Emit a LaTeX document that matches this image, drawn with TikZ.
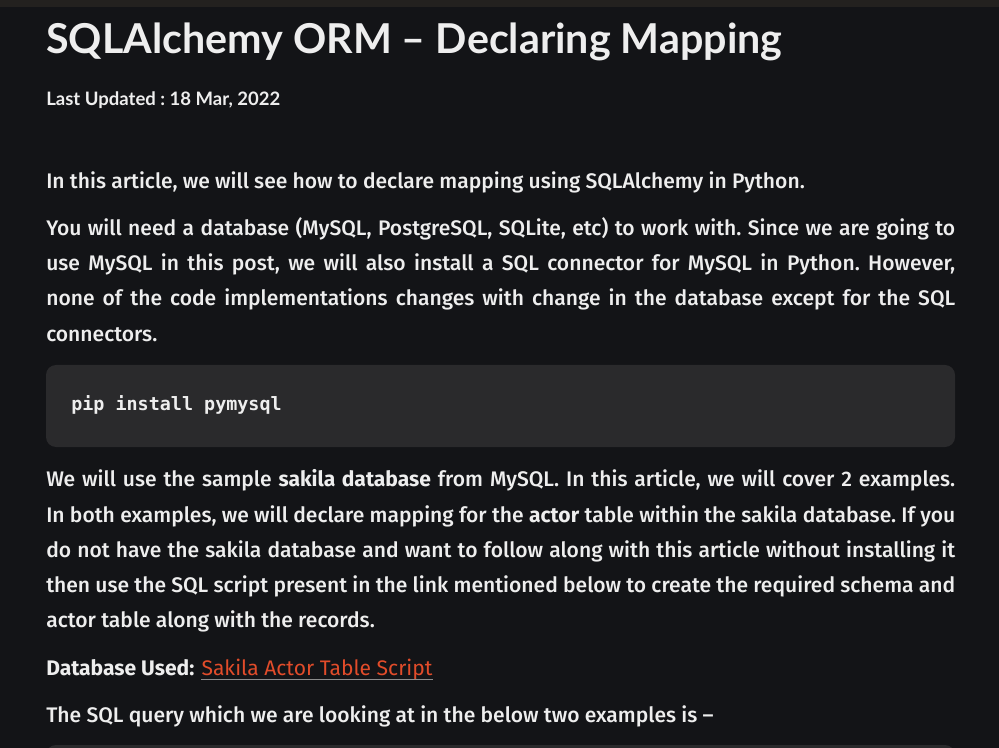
\documentclass[tikz,border=0pt]{standalone}
\usepackage{fontspec}
\IfFontExistsTF{Fira Sans Medium}{\setmainfont{Fira Sans Medium}[BoldFont={Fira Sans Bold}]}{\setmainfont{Fira Sans}}
\newfontfamily\linkfont{Fira Sans}
\newfontfamily\titlefont{Lato}
\newfontfamily\codefont{DejaVu Sans Mono}
\usepackage{tikz}
\usetikzlibrary{positioning}
\definecolor{pagebg}{RGB}{19,20,23}
\definecolor{barbg}{RGB}{35,33,31}
\definecolor{codebg}{RGB}{42,42,44}
\definecolor{fgtext}{RGB}{238,238,238}
\definecolor{linkcol}{RGB}{226,76,42}
\definecolor{ulcol}{RGB}{140,140,140}
\newcommand{\jl}[1]{\makebox[681.75pt][s]{#1}}
\frenchspacing

\begin{document}
\begin{tikzpicture}[x=0.75pt,y=-0.75pt,
    txt/.style={anchor=base west,inner sep=0pt,text=fgtext,font=\fontsize{15.8pt}{19pt}\selectfont},
    codebox/.style={fill=codebg,rounded corners=7.5pt}]
			%%Location
			\useasboundingbox (0,0) rectangle (999,748);
			%%Background
			\fill[pagebg] (0,0) rectangle (999,748);
			\fill[barbg] (0,0) rectangle (999,7);
			\fill[codebox] (46,365) rectangle (955,447);
			\fill[codebox] (46,745) rectangle (955,760);
			
			%%Title
			\node[txt,font=\titlefont\bfseries\fontsize{30.9pt}{36pt}\selectfont] (title) at (46,54) {SQLAlchemy ORM – Declaring Mapping};
			\node[txt,font=\titlefont\bfseries\fontsize{13.9pt}{16pt}\selectfont] (updated) at (46,106) {Last Updated : 18 Mar, 2022};
			
			%%Text
			\node[txt] (intro) at (46,189) {In this article, we will see how to declare mapping using SQLAlchemy in Python.};
			\node[txt] (needa) at (46,236) {\jl{You will need a database (MySQL, PostgreSQL, SQLite, etc) to work with. Since we are going to}};
			\node[txt] (needb) at (46,271) {\jl{use MySQL in this post, we will also install a SQL connector for MySQL in Python. However,}};
			\node[txt] (needc) at (46,306) {\jl{none of the code implementations changes with change in the database except for the SQL}};
			\node[txt] (needd) at (46,342) {connectors.};
			\node[txt,font=\codefont\bfseries\fontsize{13.8pt}{16pt}\selectfont] (pip) at (71,411) {pip install pymysql};
			\node[txt] (usea) at (46,486) {\jl{We will use the sample \textbf{sakila database} from MySQL. In this article, we will cover 2 examples.}};
			\node[txt] (useb) at (46,522) {\jl{In both examples, we will declare mapping for the \textbf{actor} table within the sakila database. If you}};
			\node[txt] (usec) at (46,557) {\jl{do not have the sakila database and want to follow along with this article without installing it}};
			\node[txt] (used) at (46,592) {\jl{then use the SQL script present in the link mentioned below to create the required schema and}};
			\node[txt] (usee) at (46,627) {actor table along with the records.};
			\node[txt] (dbused) at (46,675) {\textbf{Database Used:}};
			\node[txt,text=linkcol,font=\linkfont\fontsize{15.8pt}{19pt}\selectfont,right=5pt of dbused.base east,anchor=base west] (link) {Sakila Actor Table Script};
			\draw[ulcol,line width=1pt] (link.south west) -- (link.south east);
			\node[txt] (query) at (46,722) {The SQL query which we are looking at in the below two examples is –};
			
		\end{tikzpicture}
\end{document}
